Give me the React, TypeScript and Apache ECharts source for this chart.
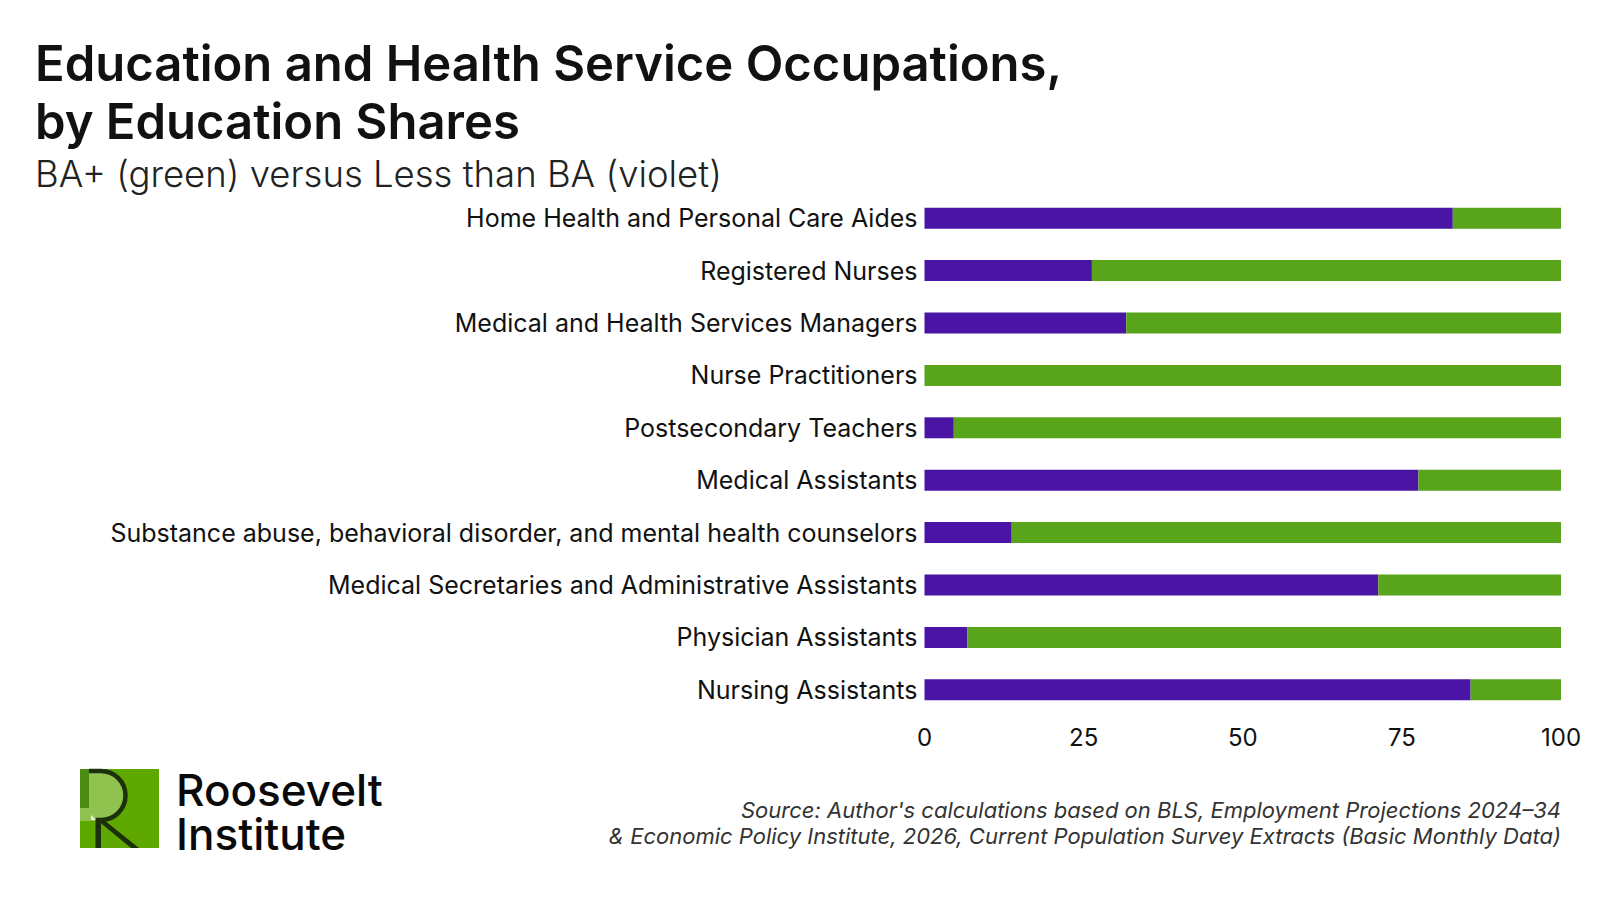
import React, { useEffect, useRef } from "react";
import * as echarts from "echarts";

const categories = [
  "Home Health and Personal Care Aides",
  "Registered Nurses",
  "Medical and Health Services Managers",
  "Nurse Practitioners",
  "Postsecondary Teachers",
  "Medical Assistants",
  "Substance abuse, behavioral disorder, and mental health counselors",
  "Medical Secretaries and Administrative Assistants",
  "Physician Assistants",
  "Nursing Assistants",
];
const lessThanBA = [83.0, 26.3, 31.7, 0, 4.6, 77.6, 13.7, 71.3, 6.7, 85.8];
const baPlus = [17.0, 73.7, 68.3, 100, 95.4, 22.4, 86.3, 28.7, 93.3, 14.2];
const xTicks = [0, 25, 50, 75, 100];

const titleLines = ["Education and Health Service Occupations,", "by Education Shares"];
const subtitle = "BA+ (green) versus Less than BA (violet)";
const sourceLines = [
  "Source: Author's calculations based on BLS, Employment Projections 2024\u201334",
  "& Economic Policy Institute, 2026, Current Population Survey Extracts (Basic Monthly Data)",
];
const logoLines = ["Roosevelt", "Institute"];

const FONT = "Inter, Lato, 'Noto Sans', sans-serif";
const VIOLET = "#4a14a4";
const GREEN = "#58a41a";

export default function App() {
  const ref = useRef<HTMLDivElement>(null);
  useEffect(() => {
    if (!ref.current) return;
    const chart = echarts.init(ref.current, null, { renderer: "svg" });
    const logoDark = "#1d300c";
    chart.setOption({
      animation: false,
      backgroundColor: "#ffffff",
      textStyle: { fontFamily: FONT },
      grid: { left: 924.5, right: 39, top: 192, bottom: 184, containLabel: false },
      xAxis: {
        type: "value",
        min: xTicks[0],
        max: xTicks[xTicks.length - 1],
        interval: 25,
        splitLine: { show: false },
        axisLine: { show: false },
        axisTick: { show: false },
        axisLabel: { fontSize: 24, color: "#111", margin: 9, fontFamily: FONT },
      },
      yAxis: {
        type: "category",
        data: categories,
        inverse: true,
        axisLine: { show: false },
        axisTick: { show: false },
        axisLabel: { fontSize: 25, color: "#111", margin: 7, fontFamily: FONT },
      },
      series: [
        {
          name: "Less than BA",
          type: "bar",
          stack: "total",
          data: lessThanBA,
          barWidth: 21,
          itemStyle: { color: VIOLET },
        },
        {
          name: "BA+",
          type: "bar",
          stack: "total",
          data: baPlus,
          barWidth: 21,
          itemStyle: { color: GREEN },
        },
      ],
      graphic: [
        {
          type: "text",
          left: 35,
          top: 38.5,
          style: { text: titleLines[0], font: `600 49px ${FONT}`, fill: "#111" },
        },
        {
          type: "text",
          left: 35,
          top: 96.5,
          style: { text: titleLines[1], font: `600 49px ${FONT}`, fill: "#111" },
        },
        {
          type: "text",
          left: 35,
          top: 155,
          style: { text: subtitle, font: `300 36.5px ${FONT}`, fill: "#222" },
        },
        {
          type: "text",
          right: 39,
          top: 799,
          style: { text: sourceLines[0], font: `italic 22px ${FONT}`, fill: "#333", align: "right" },
        },
        {
          type: "text",
          right: 39,
          top: 825,
          style: { text: sourceLines[1], font: `italic 22px ${FONT}`, fill: "#333", align: "right" },
        },
        // Logo
        { type: "rect", shape: { x: 80, y: 769, width: 79, height: 79 }, style: { fill: "#5ea800" } },
        { type: "rect", shape: { x: 80, y: 769, width: 9, height: 39 }, style: { fill: "#4b8c12" } },
        { type: "polygon", shape: { points: [[80, 808], [89, 808], [96, 821], [80, 821]] }, style: { fill: "#8fc24f" } },
        { type: "rect", shape: { x: 89, y: 771, width: 12, height: 49 }, style: { fill: "#8fc24f" } },
        {
          type: "sector",
          shape: { cx: 101, cy: 795.5, r: 24.5, r0: 0, startAngle: -Math.PI / 2, endAngle: Math.PI / 2 },
          style: { fill: "#8fc24f" },
        },
        { type: "polygon", shape: { points: [[91, 815], [97, 820], [91, 820]] }, style: { fill: "#e8f2d8" } },
        { type: "line", shape: { x1: 89, y1: 771, x2: 101, y2: 771 }, style: { stroke: logoDark, lineWidth: 4.5 } },
        {
          type: "arc",
          shape: { cx: 101, cy: 795.5, r: 24.5, startAngle: -Math.PI / 2, endAngle: Math.PI / 2, clockwise: true },
          style: { stroke: logoDark, lineWidth: 4.5, fill: null },
        },
        { type: "line", shape: { x1: 96, y1: 820, x2: 101, y2: 820 }, style: { stroke: logoDark, lineWidth: 4.5 } },
        { type: "rect", shape: { x: 95.5, y: 818, width: 5.5, height: 30 }, style: { fill: logoDark } },
        { type: "polygon", shape: { points: [[97, 820], [104, 820], [139, 848], [131, 848]] }, style: { fill: logoDark } },
        {
          type: "text",
          left: 176,
          top: 768,
          style: { text: logoLines[0], font: `500 44px ${FONT}`, fill: "#0a0a0a" },
        },
        {
          type: "text",
          left: 176,
          top: 812,
          style: { text: logoLines[1], font: `500 44px ${FONT}`, fill: "#0a0a0a" },
        },
      ],
    });
    return () => chart.dispose();
  }, []);
  return <div ref={ref} style={{ width: 1600, height: 900, margin: -8 }} />;
}
